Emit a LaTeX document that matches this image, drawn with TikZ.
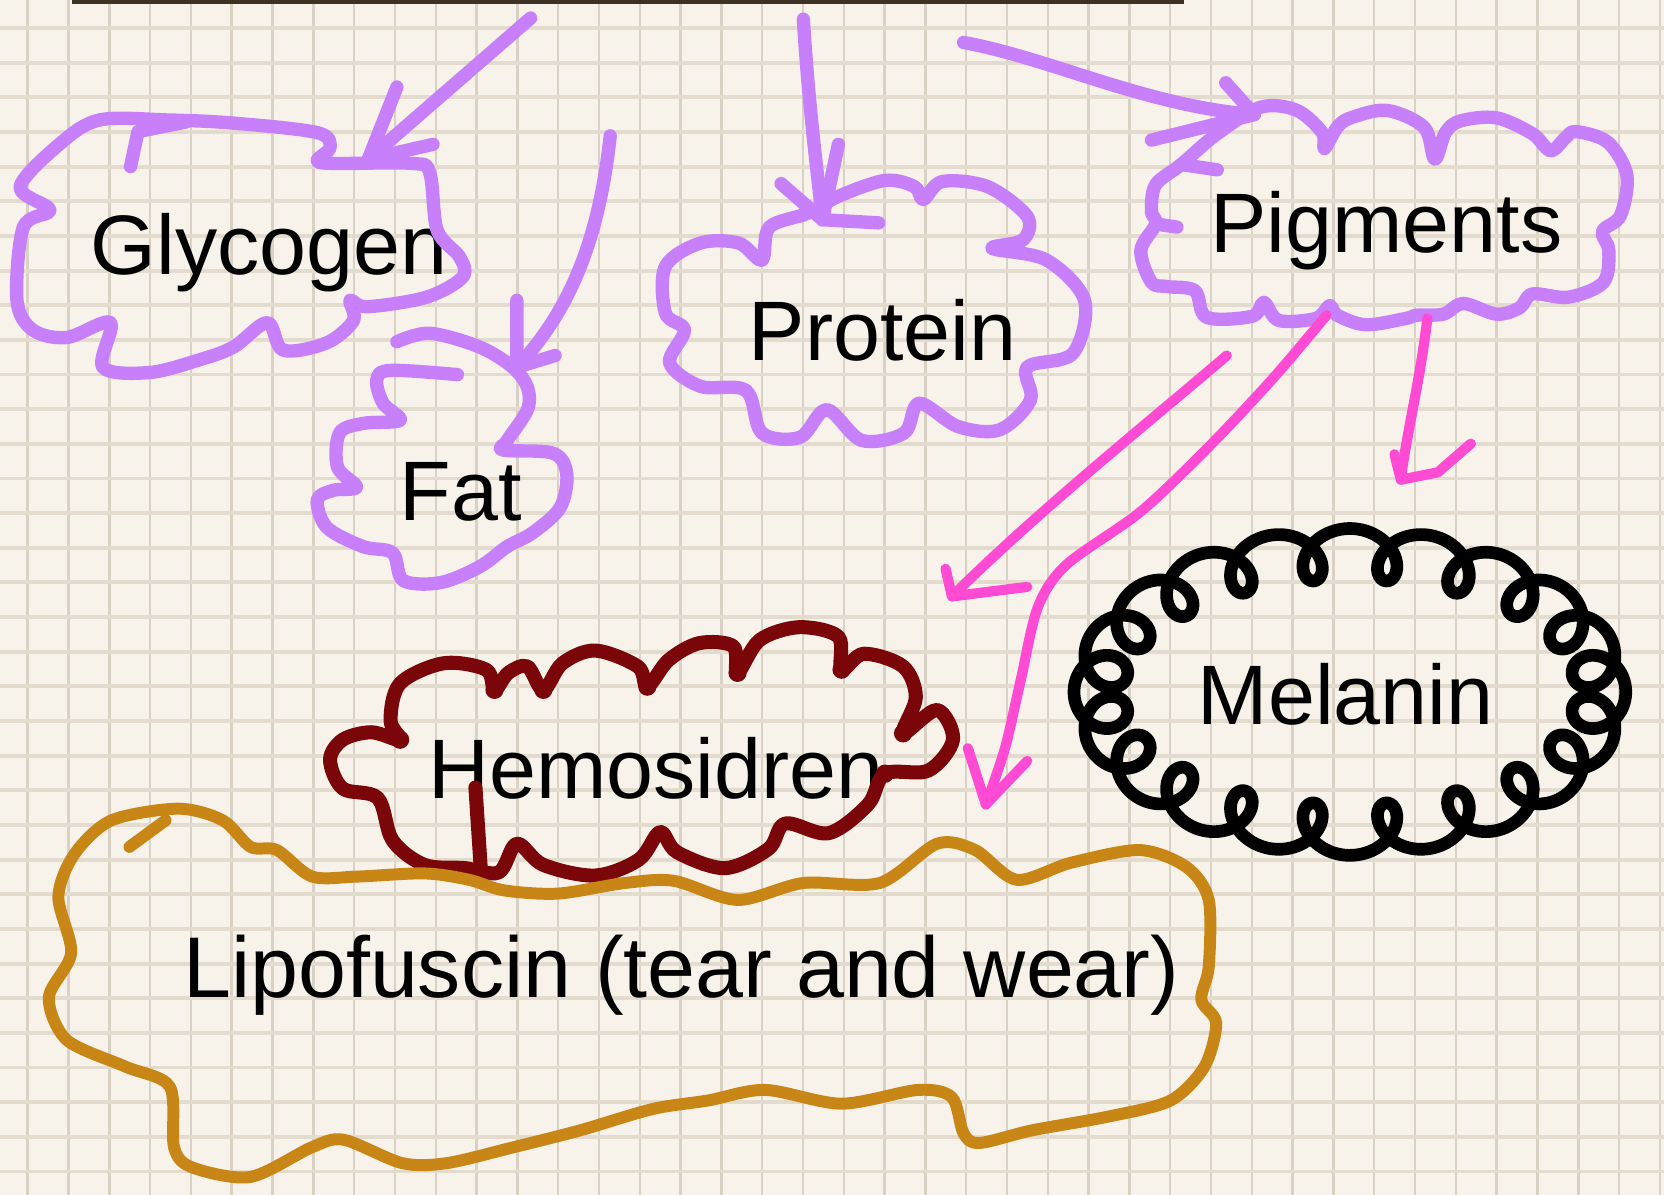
\documentclass[tikz,border=0pt]{standalone}
\usepackage{fontspec}
\setmainfont{Liberation Sans}
\definecolor{paper}{RGB}{247,243,235}
\definecolor{gridv}{RGB}{216,209,196}
\definecolor{gridh}{RGB}{226,219,206}
\definecolor{lilac}{RGB}{199,128,250}
\definecolor{pinkc}{RGB}{255,75,212}
\definecolor{maroonc}{RGB}{122,6,10}
\definecolor{goldc}{RGB}{200,134,22}
\definecolor{toplinec}{RGB}{60,50,35}
\begin{document}
\begin{tikzpicture}[x=0.010612cm, y=-0.010612cm,
  lbl/.style={font=\fontsize{24}{28}\selectfont, inner sep=0pt, anchor=base west, text=black},
  purp/.style={draw=lilac, line width=3.8pt, line cap=round, line join=round},
  pinkln/.style={draw=pinkc, line width=2.9pt, line cap=round, line join=round},
  redln/.style={draw=maroonc, line width=4pt, line cap=round, line join=round},
  goldln/.style={draw=goldc, line width=3.4pt, line cap=round, line join=round},
  blackln/.style={draw=black, line width=3.6pt, line cap=round, line join=round},
  gv/.style={draw=gridv, line width=0.7pt},
  gh/.style={draw=gridh, line width=1.1pt}]
\fill[paper] (0,0) rectangle (1568,1126);
\useasboundingbox (0,0) rectangle (1568,1126);
% grid paper
\foreach \i in {0,...,40} {\draw[gv] ({26.1+38.45*\i},0) -- ++(0,1126);}
\foreach \j in {0,...,34} {\draw[gh] (0,{26.4+32.65*\j}) -- ++(1568,0);}
% top rule
\coordinate (tl) at (68,1.5);
\coordinate (tr) at (1116,1.5);
\draw[toplinec, line width=1.3pt] (tl) -- (tr);

% labels
\node[lbl] (glyc) at (85,259) {Glycogen};
\node[lbl] (fat) at (376,490) {Fat};
\node[lbl] (prot) at (705,340) {Protein};
\node[lbl] (pigm) at (1140,238) {Pigments};
\node[lbl] (mela) at (1128,683) {Melanin};
\node[lbl] (hemo) at (403,752) {Hemosidren};
\node[lbl, font=\fontsize{24.5}{28}\selectfont] (lipo) at (172,940) {Lipofuscin (tear and wear)};

% Glycogen cloud
\draw[purp] plot[smooth cycle, tension=0.55] coordinates {
 (94,113) (57,135) (19,176) (47,198) (22,214) (16,283) (31,311) (63,318) (104,304)
 (97,346) (141,351) (188,339) (220,327) (252,304) (267,330) (308,323) (333,302)
 (330,283) (346,289) (402,280) (436,261) (433,242) (412,217) (405,163) (389,154)
 (314,154) (299,151) (311,139) (299,125) (220,116) (157,113)};
\draw[purp] (123,157) -- (130,124) -- (175,115);
% arrow into Glycogen
\coordinate (gs) at (500,17);
\coordinate (gt) at (347,150);
\draw[purp] (gs) -- (gt);
\draw[purp] (374,82) -- (gt) -- (408,136);

% Fat cloud
\draw[purp] plot[smooth, tension=0.55] coordinates {
 (374,322) (405,314) (452,327) (483,346) (497,365) (497,386) (478,415) (474,424)
 (521,427) (534,446) (528,478) (502,502) (478,515) (452,534) (415,549) (380,547)
 (370,521) (342,515) (308,497) (299,471) (314,462) (336,459) (318,440) (320,408)
 (342,399) (377,396) (361,380) (355,358) (368,349) (431,353)};
\fill[lilac] (478,515) circle[radius=1.9pt];
% arrow into Fat
\coordinate (fs) at (575,128);
\coordinate (ft) at (487,346);
\draw[purp] (fs) .. controls (565,220) and (540,290) .. (ft);
\draw[purp] (487,283) -- (ft) -- (523,335);

% Protein cloud
\draw[purp] plot[smooth cycle, tension=0.55] coordinates {
 (718,245) (725,214) (761,201) (790,185) (834,170) (862,176) (870,188)
 (888,171) (931,176) (968,204) (964,226) (935,234)
 (986,245) (1022,283) (1011,333) (968,346)
 (971,377) (942,405) (903,402) (866,380)
 (852,408) (812,415) (779,386)
 (754,412) (718,408) (703,368)
 (660,364) (631,342) (645,311)
 (627,295) (627,251) (660,229) (696,229)};
\foreach \p in {(718,245),(645,311),(703,368),(866,380),(968,346),(935,234)}
  {\fill[lilac] \p circle[radius=1.9pt];}
% arrow into Protein
\coordinate (ps) at (757,18);
\coordinate (pt) at (775,207);
\draw[purp] (ps) .. controls (762,100) and (770,160) .. (pt);
\draw[purp] (736,173) -- (pt) -- (790,136);
\draw[purp] (pt) -- (828,210);

% Pigments cloud
\draw[purp] plot[smooth cycle, tension=0.55] coordinates {
 (1147,126) (1188,101) (1222,104) (1246,125) (1248,140) (1260,120)
 (1273,111) (1307,104) (1342,120) (1352,150) (1362,125)
 (1376,114) (1410,111) (1444,126) (1461,142) (1475,130)
 (1485,124) (1515,134) (1533,165) (1527,203) (1510,218)
 (1516,236) (1511,266) (1478,280) (1444,277) (1432,290)
 (1410,296) (1379,286) (1360,296) (1335,297) (1325,300)
 (1287,306) (1260,297) (1253,288) (1240,300) (1205,302) (1191,285)
 (1180,298) (1137,299) (1126,274) (1100,270) (1085,266) (1075,236) (1089,211)
 (1085,199) (1089,174) (1113,155)};
\foreach \p in {(1379,286),(1253,288),(1191,285),(1126,274)}
  {\fill[lilac] \p circle[radius=1.9pt];}
\draw[purp] (1089,211) -- (1109,214);
\draw[purp] (1113,155) -- (1147,160);
% arrow into Pigments
\coordinate (gms) at (908,40);
\coordinate (gmt) at (1182,108);
\draw[purp] (gms) .. controls (990,55) and (1080,100) .. (gmt);
\draw[purp] (1155,78) -- (gmt) -- (1085,132);

% pink arrows out of Pigments
\coordinate (aS) at (1156,335);
\coordinate (aT) at (897,562);
\draw[pinkln] (aS) .. controls (1080,400) and (980,480) .. (aT);
\draw[pinkln] (891,536) -- (aT) -- (968,553);
\coordinate (bS) at (1250,297);
\coordinate (bT) at (929,758);
\draw[pinkln] plot[smooth, tension=0.5] coordinates {
 (bS) (1200,356) (1140,420) (1075,482) (1005,532) (978,572) (962,640) (947,705) (bT)};
\draw[pinkln] (912,705) -- (bT) -- (968,717);
\coordinate (cS) at (1345,300);
\coordinate (cT) at (1320,452);
\draw[pinkln] (cS) .. controls (1338,360) and (1325,410) .. (cT);
\draw[pinkln] (1314,428) -- (cT) -- (1355,445) -- (1386,418);

% Melanin loopy cloud
\draw[blackln] plot[variable=\t, domain=0:360, samples=720, smooth]
  ({1272+236*cos(\t)+24*cos(21*\t)}, {652+130*sin(\t)+24*sin(21*\t)});

% Hemosidren cloud
\draw[redln] plot[smooth cycle, tension=0.55] coordinates {
 (377,697) (368,679) (377,644) (418,625) (458,631) (466,650)
 (479,634) (497,628) (512,650) (530,625) (561,613) (601,628) (610,647)
 (630,622) (659,606) (691,609) (695,634)
 (716,603) (753,591) (790,600) (793,631)
 (814,616) (851,628) (863,657) (851,691)
 (883,669) (898,697) (875,726) (834,729)
 (818,758) (781,785) (740,776)
 (724,800) (683,818) (638,803) (622,784)
 (602,810) (561,825) (512,815) (487,795)
 (470,822) (438,818) (400,815) (370,792) (356,752) (323,743) (311,716) (323,697) (350,690)};
\foreach \p in {(377,697),(466,650),(512,650),(610,647),(695,634),(793,631),(851,691),(834,729)}
  {\fill[maroonc] \p circle[radius=2.6pt];}
\draw[redln] (448,742) -- (453,818);

% Lipofuscin cloud
\draw[goldln] plot[smooth cycle, tension=0.5] coordinates {
 (55,845) (70,805) (105,773) (168,762) (210,773) (236,798) (261,801) (294,826)
 (336,826) (400,823) (442,829) (475,839) (526,842) (589,832) (635,830) (695,848)
 (757,832) (829,832) (883,795) (919,801) (958,829) (1009,813) (1074,801)
 (1118,817) (1139,848) (1139,911) (1132,942) (1146,964) (1135,1005) (1103,1037)
 (1045,1052) (973,1065) (923,1077) (908,1068) (897,1034) (865,1027) (793,1040)
 (721,1027) (667,1037) (615,1045) (547,1065) (484,1081) (421,1096) (379,1096)
 (324,1074) (294,1081) (236,1109) (181,1100) (164,1081) (160,1024) (118,1005)
 (63,980) (46,940) (67,898)};
\draw[goldln] (122,798) -- (156,773);
\end{tikzpicture}
\end{document}
